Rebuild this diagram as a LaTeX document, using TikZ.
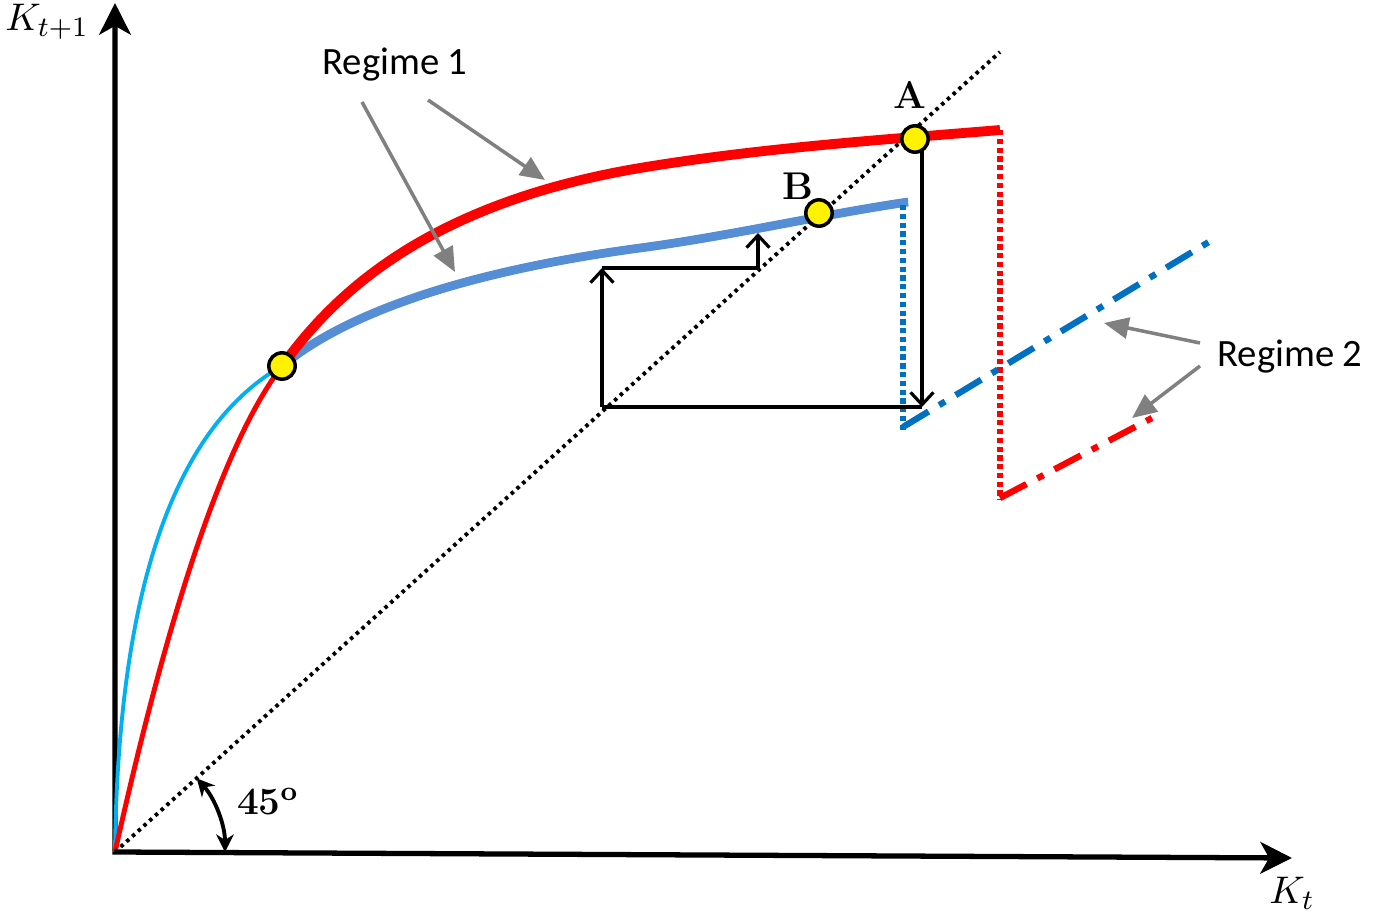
\documentclass[tikz,border=0pt]{standalone}
\usepackage{fontspec}
\newfontfamily\regfont{Carlito}
\usetikzlibrary{arrows.meta}
\definecolor{lowblue}{RGB}{85,142,213}
\definecolor{skyblue}{RGB}{0,176,240}
\definecolor{dashblue}{RGB}{0,112,192}
\begin{document}
\begin{tikzpicture}[x=0.01cm,y=-0.01cm,
axis/.style={line width=1.5pt,line join=miter,{Stealth[length=9pt,width=9pt,inset=2.5pt]}-{Stealth[length=9pt,width=9pt,inset=2.5pt]}},
stepline/.style={line width=0.9pt},
steparrow/.style={line width=0.9pt,-{Straight Barb[length=3.5pt,width=6.5pt]}},
pointer/.style={draw=gray,line width=1pt,-{Triangle[length=7pt,width=6pt]}},
eqpt/.style={circle,draw,fill=yellow,line width=1pt,minimum size=7.5pt,inner sep=0pt},
regime/.style={font=\regfont\fontsize{11}{13}\selectfont},
ptlabel/.style={font=\bfseries\fontsize{11}{13}\selectfont},
vdots/.style={line width=1.5pt,dash pattern=on 1.5pt off 1pt},
dashdot/.style={line width=1.8pt,dash pattern=on 8.5pt off 3.5pt on 2pt off 3.5pt}]
\useasboundingbox (0,0) rectangle (1384,915);

\coordinate (O) at (115,852);
\coordinate (ytop) at (115,3);
\coordinate (xend) at (1292,858);
\coordinate (diag) at (1000,52);
\coordinate (cross) at (282,366);
\coordinate (rmid) at (640,168);
\coordinate (rend) at (1000,130);
\coordinate (bmid) at (640,248);
\coordinate (bend) at (908,202);

% axes
\draw[axis] (ytop) -- (O) -- (xend);
\node (ylab) at (47,22) {\fontsize{11}{13}\selectfont$K_{t+1}$};
\node (xlab) at (1292,893) {\fontsize{11}{13}\selectfont$K_t$};

% regime 1 curves
\draw[skyblue,line width=1.1pt] (O) .. controls (118,600) and (170,430) .. (cross)
  .. controls (335,320) and (440,273) .. (640,246) .. controls (730,234) and (820,213) .. (908,200);
\draw[lowblue,line width=2.5pt] (cross) .. controls (335,322) and (440,275) .. (bmid)
  .. controls (730,236) and (820,215) .. (bend);
\draw[red,line width=1.4pt] (O) .. controls (160,650) and (216,453) .. (cross);
\draw[red,line width=2.8pt] (cross) .. controls (330,300) and (420,205) .. (rmid)
  .. controls (760,148) and (880,140) .. (rend);

% regime 2
\coordinate (bluetop) at (903,205);
\coordinate (bluelow) at (903,430);
\coordinate (bluefar) at (1217,237);
\coordinate (redtop) at (1000,130);
\coordinate (redlow) at (1000,500);
\coordinate (redfar) at (1152,418);
\draw[dashblue,vdots] (bluetop) -- (bluelow);
\draw[red,vdots] (redtop) -- (redlow);
\draw[dashblue,dashdot] (903,427) -- (bluefar);
\draw[red,dashdot] (1000,498) -- (redfar);

\draw[line width=1.1pt,dash pattern=on 1pt off 1.2pt] (O) -- (diag);

% path to the new steady state
\coordinate (s1) at (922,407);
\coordinate (s2) at (602,407);
\coordinate (s3) at (602,268);
\coordinate (s4) at (758,268);
\coordinate (s5) at (758,233);
\draw[steparrow] (922,140) -- (s1);
\draw[stepline] (s1) -- (s2);
\draw[steparrow] (s2) -- (s3);
\draw[stepline] (s3) -- (s4);
\draw[steparrow] (s4) -- (s5);

\node[eqpt] (C) at (cross) {};
\node[eqpt] (A) at (915,139) {};
\node[eqpt] (B) at (819,213) {};
\node[ptlabel] (Alab) at (910,95) {A};
\node[ptlabel] (Blab) at (798,186) {B};

\node[regime] (reg1) at (395,65) {Regime 1};
\node[regime] (reg2) at (1290,357) {Regime 2};
\draw[pointer] (428,100) -- (545,180);
\draw[pointer] (362,102) -- (455,272);
\draw[pointer] (1200,343) -- (1104,323);
\draw[pointer] (1200,366) -- (1132,418);

% 45 degrees
\path (O) ++(-42:110) coordinate (arcs);
\draw[line width=1.1pt,{Stealth[length=5pt,width=5pt]}-{Stealth[length=5pt,width=5pt]}] (arcs) arc[start angle=-42,end angle=0,radius=110];
\node[font=\bfseries\fontsize{11}{13}\selectfont] (ang) at (268,802) {45\textsuperscript{o}};
\end{tikzpicture}
\end{document}
